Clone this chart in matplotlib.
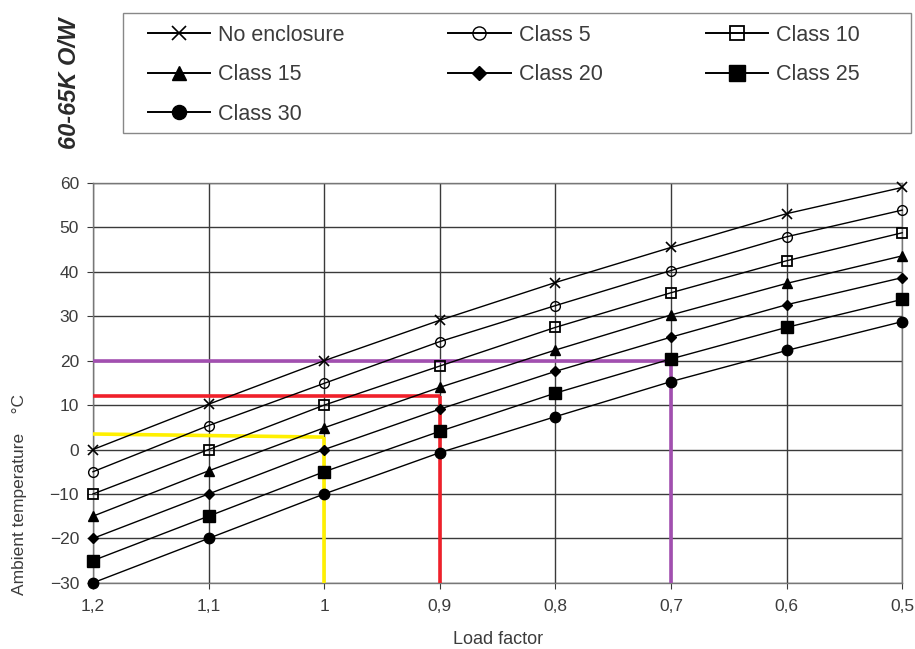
import matplotlib
matplotlib.use("Agg")
import matplotlib.pyplot as plt
from matplotlib.patches import Rectangle

plt.rcParams['font.family'] = ['Liberation Sans', 'DejaVu Sans']

# Load factor (x axis runs from 1.2 down to 0.5)
load_factor = [1.2, 1.1, 1.0, 0.9, 0.8, 0.7, 0.6, 0.5]
x_tick_labels = ["1,2", "1,1", "1", "0,9", "0,8", "0,7", "0,6", "0,5"]
y_ticks = [-30, -20, -10, 0, 10, 20, 30, 40, 50, 60]

# Permissible ambient temperature (°C) per enclosure class
no_enclosure = [0, 10.2, 20, 29.1, 37.6, 45.5, 53.1, 59.0]
class_5 = [-5, 5.4, 14.9, 24.3, 32.4, 40.3, 47.9, 53.9]
class_10 = [-10, 0, 10, 18.8, 27.5, 35.3, 42.5, 48.8]
class_15 = [-15, -4.8, 4.9, 14.0, 22.4, 30.3, 37.4, 43.6]
class_20 = [-20, -10, 0, 9.1, 17.6, 25.3, 32.6, 38.7]
class_25 = [-25, -15, -5, 4.1, 12.7, 20.4, 27.5, 33.8]
class_30 = [-30, -20, -10, -0.7, 7.4, 15.3, 22.3, 28.8]

# Reading examples: (ambient temperature, resulting load factor)
example_purple = (20, 0.7)
example_red = (12, 0.9)
example_yellow = ((3.5, 2.8), 1.0)

W, H = 915, 649
fig = plt.figure(figsize=(W / 100, H / 100), dpi=100)
ax = fig.add_axes([0.1016, 0.102, 0.8844, 0.616])

grid_col = "#3a3a3a"
txt_col = "#3c3c3c"

series = [
    ("No enclosure", no_enclosure, dict(marker="x", markersize=7.5, mew=1.2, mfc="black")),
    ("Class 15", class_15, dict(marker="^", markersize=7, mfc="black")),
    ("Class 30", class_30, dict(marker="o", markersize=7.5, mfc="black")),
    ("Class 5", class_5, dict(marker="o", markersize=7, mfc="none", mew=1.0)),
    ("Class 20", class_20, dict(marker="D", markersize=5.5, mfc="black")),
    ("Class 10", class_10, dict(marker="s", markersize=7.5, mfc="none", mew=1.3)),
    ("Class 25", class_25, dict(marker="s", markersize=8.5, mfc="black")),
]

handles = []
for name, vals, style in series:
    h, = ax.plot(load_factor, vals, color="black", lw=1.0, mec="black",
                 label=name, clip_on=False, zorder=4, **style)
    handles.append(h)

# Example reading lines
lw_ex = 2.6
t, lf = example_purple
ax.plot([1.2, lf], [t, t], color="#a24fb0", lw=lw_ex, zorder=3, solid_capstyle="butt")
ax.plot([lf, lf], [t, -30], color="#a24fb0", lw=lw_ex, zorder=3, solid_capstyle="butt")
t, lf = example_red
ax.plot([1.2, lf], [t, t], color="#f0202a", lw=lw_ex, zorder=3, solid_capstyle="butt")
ax.plot([lf, lf], [t, -30], color="#f0202a", lw=lw_ex, zorder=3, solid_capstyle="butt")
(t0, t1), lf = example_yellow
ax.plot([1.2, lf], [t0, t1], color="#fff000", lw=lw_ex, zorder=3, solid_capstyle="butt")
ax.plot([lf, lf], [t1, -30], color="#fff000", lw=lw_ex, zorder=3, solid_capstyle="butt")

ax.set_xlim(1.2, 0.5)
ax.set_ylim(-30, 60)
ax.set_xticks(load_factor)
ax.set_xticklabels(x_tick_labels)
ax.set_yticks(y_ticks)
ax.grid(True, color=grid_col, lw=1.0)
ax.set_axisbelow(True)
for sp in ax.spines.values():
    sp.set_color("#777777")
    sp.set_linewidth(1.0)
ax.tick_params(axis="both", direction="out", length=4, color=grid_col,
               labelsize=12.5, labelcolor=txt_col, pad=6)
ax.tick_params(axis="x", pad=8)

ax.set_xlabel("Load factor", fontsize=13, color=txt_col, labelpad=12)
ax.set_ylabel("Ambient temperature    °C", fontsize=12.5, color=txt_col)
ax.yaxis.set_label_coords(-0.082, 0.22)

fig.text(0.076, 0.872, "60-65K O/W", rotation=90, fontsize=17, fontweight="bold",
         fontstyle="italic", color="#2a2a2a", ha="center", va="center")

# Legend frame drawn separately so horizontal and vertical padding can differ
fig.patches.append(Rectangle((123 / W, 1 - 133 / H), (911 - 123) / W, 120 / H,
                             transform=fig.transFigure, fill=False,
                             edgecolor="#888888", lw=1.0))
leg = fig.legend(handles=handles, loc="upper left", ncol=3, mode="expand",
                 bbox_to_anchor=(148 / W, 1 - 130 / H, (860 - 148) / W, 105 / H),
                 frameon=False, fontsize=15.5, markerscale=1.35,
                 handlelength=2.9, handletextpad=0.37, labelspacing=0.85,
                 borderaxespad=0.0, borderpad=0.0, labelcolor=txt_col)
for line in leg.get_lines():
    line.set_linewidth(1.4)

fig.savefig("out.png", dpi=100, facecolor="white")
